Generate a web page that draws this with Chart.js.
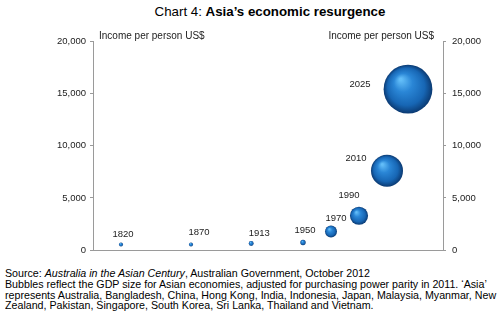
<!DOCTYPE html>
<html>
<head>
<meta charset="utf-8">
<script src="https://cdn.jsdelivr.net/npm/chart.js@4.4.0/dist/chart.umd.min.js"></script>
<style>
  body { margin: 0; background: #fff; width: 503px; height: 328px; position: relative; overflow: hidden; }
  #title { position: absolute; top: 4px; left: 0; width: 540px; text-align: center; font: 13.3px "Liberation Sans", Arial, sans-serif; color: #000; white-space: nowrap; }
  #chartBox { position: absolute; top: 0; left: 0; width: 503px; height: 262px; }
  #note { position: absolute; top: 268px; left: 5px; font: 11px "Liberation Sans", Arial, sans-serif; line-height: 10.8px; color: #000; white-space: nowrap; transform: scaleX(0.97); transform-origin: 0 0; }
</style>
</head>
<body>
<div id="title">Chart 4: <b>Asia’s economic resurgence</b></div>
<div id="chartBox"><canvas id="myChart" width="503" height="262"></canvas></div>
<div id="note">Source: <i>Australia in the Asian Century</i>, Australian Government, October 2012<br>
Bubbles reflect the GDP size for Asian economies, adjusted for purchasing power parity in 2011. ‘Asia’<br>
represents Australia, Bangladesh, China, Hong Kong, India, Indonesia, Japan, Malaysia, Myanmar, New<br>
Zealand, Pakistan, Singapore, South Korea, Sri Lanka, Thailand and Vietnam.</div>
<script>
const years = [1820, 1870, 1913, 1950, 1970, 1990, 2010, 2025];
const incomePerPerson = [550, 550, 650, 750, 1800, 3300, 7600, 15400];
const gdpTrillions = [0.4, 0.4, 0.6, 0.7, 3.5, 8, 25, 58];
const yTicks = [0, 5000, 10000, 15000, 20000];

// year label offsets from bubble centre (px)
const labelOffsets = [[2, -10], [8, -12], [8, -10], [2, -12], [5, -13], [-10, -20], [-31, -12], [-48, -5]];

const font = "'Liberation Sans', Arial, sans-serif";

const points = years.map((yr, i) => ({ x: yr, y: incomePerPerson[i], r: 3.2 * Math.sqrt(gdpTrillions[i]) }));

function bubbleFill(c) {
  const raw = c.raw;
  const sx = c.chart.scales && c.chart.scales.x;
  const sy = c.chart.scales && c.chart.scales.y;
  if (!raw || !sx || !sy) return "#1a6fc0";
  const px = sx.getPixelForValue(raw.x);
  const py = sy.getPixelForValue(raw.y);
  const r = raw.r;
  if (![px, py, r].every(Number.isFinite)) return "#1a6fc0";
  const g = c.chart.ctx.createRadialGradient(px - r * 0.3, py - r * 0.4, r * 0.05, px, py, r);
  g.addColorStop(0, "#62bdf8");
  g.addColorStop(0.35, "#2a86d6");
  g.addColorStop(0.75, "#1766b4");
  g.addColorStop(1, "#0b3a72");
  return g;
}

const labelsPlugin = {
  id: "yearLabels",
  afterDatasetsDraw(chart) {
    const ctx = chart.ctx;
    const meta = chart.getDatasetMeta(0);
    ctx.save();
    ctx.font = "9.5px " + font;
    ctx.fillStyle = "#222";
    ctx.textAlign = "center";
    ctx.textBaseline = "middle";
    meta.data.forEach((el, i) => {
      ctx.fillText(String(years[i]), el.x + labelOffsets[i][0], el.y + labelOffsets[i][1]);
    });
    const a = chart.chartArea;
    ctx.font = "10px " + font;
    ctx.textBaseline = "alphabetic";
    ctx.textAlign = "left";
    ctx.fillText("Income per person US$", a.left + 6, a.top - 2);
    ctx.textAlign = "right";
    ctx.fillText("Income per person US$", a.right - 9, a.top - 2);
    ctx.restore();
  }
};

const axisGrey = "#9a9a9a";
const yAxis = (pos, w, pad) => ({
  position: pos,
  min: 0,
  max: 20000,
  afterBuildTicks: s => { s.ticks = yTicks.map(v => ({ value: v })); },
  afterFit: s => { s.width = w; },
  grid: { drawOnChartArea: false, drawTicks: true, tickLength: 3, color: axisGrey },
  border: { display: true, color: axisGrey, width: 1 },
  ticks: {
    padding: pad,
    color: "#222",
    font: { family: font, size: 9.5 },
    callback: v => v.toLocaleString("en-US")
  }
});

const ctx = document.getElementById("myChart").getContext("2d");
const myChart = new Chart(ctx, {
  type: "bubble",
  data: {
    datasets: [
      {
        label: "Asia",
        data: points,
        backgroundColor: bubbleFill,
        borderWidth: 0,
        yAxisID: "y",
      },
    ],
  },
  options: {
    responsive: false,
    animation: false,
    layout: { autoPadding: false, padding: { left: 0, right: 0, top: 41, bottom: 11 } },
    scales: {
      x: {
        type: "linear",
        min: 1800,
        max: 2050,
        afterFit: s => { s.height = 0; },
        grid: { display: false },
        border: { display: true, color: axisGrey, width: 1 },
        ticks: { display: false },
      },
      y: yAxis("left", 93, 4),
      y2: yAxis("right", 60, 6),
    },
    plugins: {
      legend: { display: false },
      tooltip: { enabled: false },
    },
  },
  plugins: [labelsPlugin],
});
</script>
</body>
</html>
